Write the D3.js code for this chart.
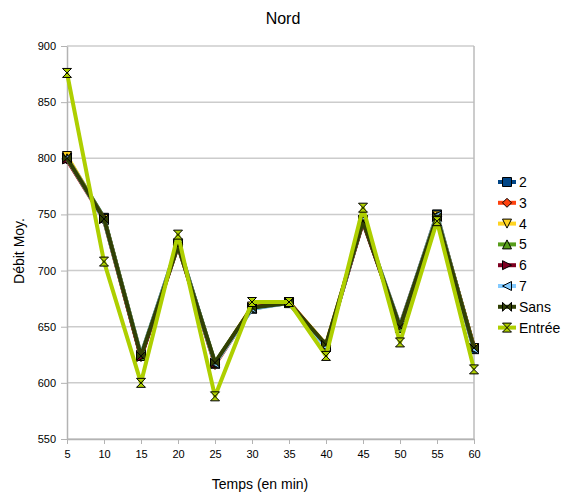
<!DOCTYPE html>
<html><head><meta charset="utf-8">
<script src="https://cdn.jsdelivr.net/npm/d3@7"></script>
<style>body{margin:0;background:#fff}text{font-family:"Liberation Sans",Arial,sans-serif}</style>
</head><body><svg id="c" width="563" height="495"></svg>
<script>
const times = [5,10,15,20,25,30,35,40,45,50,55,60];
const yTicks = [550,600,650,700,750,800,850,900];
const seriesNames = ["2","3","4","5","6","7","Sans","Entrée"];
const s2 = [801,747,624,724,617,666,672,632,745,649,750,630];
const s3 = [799,745,623,723,616,667,671,633,744,651,748,632];
const s4 = [802,746,625,722,617,668,672,634,745,650,749,631];
const s5 = [800,747,624,723,618,667,671,633,744,649,748,632];
const s6 = [799,746,623,722,617,667,672,633,743,650,748,631];
const s7 = [800,745,625,723,617,666,671,632,745,651,749,630];
const sSans = [800,746,624,722,618,667,671,634,744,650,748,631];
const sEntree = [876,708,600,732,588,672,672,624,756,636,744,612];
const seriesValues = [s2,s3,s4,s5,s6,s7,sSans,sEntree];
const colors = ["#004586","#ff420e","#ffd320","#579d1c","#7e0021","#83caff","#314004","#aecf00"];
const shapes = ["square","diamond","down","up","right","left","bowtie","hourglass"];

function markerPath(t, s){
  switch(t){
    case "square": return `M${-s},${-s}H${s}V${s}H${-s}Z`;
    case "diamond": return `M0,${-s}L${s},0L0,${s}L${-s},0Z`;
    case "down": return `M${-s},${-s}H${s}L0,${s}Z`;
    case "up": return `M${-s},${s}H${s}L0,${-s}Z`;
    case "right": return `M${-s},${-s}L${s},0L${-s},${s}Z`;
    case "left": return `M${s},${-s}L${-s},0L${s},${s}Z`;
    case "bowtie": return `M${-s},${-s}L${s},${s}L${s},${-s}L${-s},${s}Z`;
    case "hourglass": return `M${-s},${-s}L${s},${-s}L${-s},${s}L${s},${s}Z`;
  }
}

const svg = d3.select("#c");
const x = d3.scaleLinear().domain([5,60]).range([67,474]);
const y = d3.scaleLinear().domain([550,900]).range([439,46]);

// gridlines
svg.append("g").selectAll("line").data(yTicks).join("line")
  .attr("x1",67).attr("x2",474).attr("y1",d=>y(d)).attr("y2",d=>y(d))
  .attr("stroke","#cccccc").attr("stroke-width",1.5);
// right border
svg.append("line").attr("x1",474).attr("x2",474).attr("y1",46).attr("y2",439)
  .attr("stroke","#bbbbbb").attr("stroke-width",1.5);

const xAxis = svg.append("g").attr("transform","translate(0,439)")
  .call(d3.axisBottom(x).tickValues(times).tickSize(5).tickPadding(6).tickSizeOuter(0));
const yAxis = svg.append("g").attr("transform","translate(67,0)")
  .call(d3.axisLeft(y).tickValues(yTicks).tickSize(6).tickPadding(5).tickSizeOuter(0));
[xAxis,yAxis].forEach(a=>{
  a.select(".domain").attr("stroke","#b3b3b3").attr("stroke-width",1.5);
  a.selectAll(".tick line").attr("stroke","#b3b3b3").attr("stroke-width",1);
  a.selectAll("text").attr("font-size",11).attr("fill","#000").attr("font-family","Liberation Sans, Arial, sans-serif");
});

const line = d3.line().x((d,i)=>x(times[i])).y(d=>y(d));
seriesValues.forEach((vals,k)=>{
  const g = svg.append("g");
  g.append("path").attr("d",line(vals)).attr("fill","none")
    .attr("stroke",colors[k]).attr("stroke-width",4).attr("stroke-linejoin","round");
  g.selectAll("path.m").data(vals).join("path").attr("class","m")
    .attr("transform",(d,i)=>`translate(${x(times[i])},${y(d)})`)
    .attr("d",markerPath(shapes[k],4.5)).attr("fill",colors[k])
    .attr("stroke","#000").attr("stroke-width",1);
});

// legend
const lg = svg.append("g");
seriesNames.forEach((n,k)=>{
  const yy = 182 + k*20.8;
  lg.append("line").attr("x1",498).attr("x2",516).attr("y1",yy).attr("y2",yy)
    .attr("stroke",colors[k]).attr("stroke-width",4);
  lg.append("path").attr("transform",`translate(507,${yy})`).attr("d",markerPath(shapes[k],4.5))
    .attr("fill",colors[k]).attr("stroke","#000").attr("stroke-width",1);
  lg.append("text").attr("x",519).attr("y",yy+5).attr("font-size",14).text(n);
});

svg.append("text").attr("x",283).attr("y",24).attr("text-anchor","middle").attr("font-size",16).text("Nord");
svg.append("text").attr("x",260).attr("y",489).attr("text-anchor","middle").attr("font-size",14).text("Temps (en min)");
svg.append("text").attr("transform","translate(24,251) rotate(-90)").attr("text-anchor","middle").attr("font-size",14).text("Débit Moy.");
</script></body></html>
